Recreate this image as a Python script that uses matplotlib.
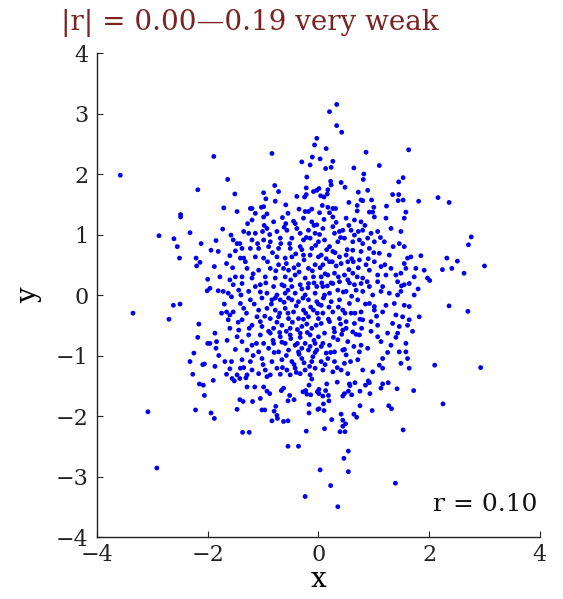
import matplotlib
matplotlib.use("Agg")
import matplotlib.pyplot as plt

# ---- data ----
pts_outer = [
    (-3.58,1.98),(-2.18,1.74),(-2.49,1.33),
    (-0.03,2.59),(-0.07,2.48),(-1.89,2.29),(-0.84,2.34),(-0.30,2.20),(-0.15,2.15),(-0.11,2.28),
    (-1.64,1.91),(-0.21,1.95),(-1.51,1.67),(-0.79,1.81),(-0.72,1.71),(-0.99,1.69),(-0.95,1.59),
    (-0.78,1.55),(-0.39,1.63),(-0.22,1.77),(-0.22,1.66),(-0.09,1.71),(-0.03,1.73),(-0.25,1.62),
    (-1.71,1.44),(-1.47,1.38),(-1.23,1.43),(-1.20,1.43),(-1.03,1.45),(-0.99,1.46),(-0.59,1.49),
    (-0.35,1.42),(-0.24,1.38),(-0.18,1.38),(-0.12,1.42),(-1.14,1.35),(-0.93,1.34),(-0.55,1.35),
    (0.33,3.15),(0.20,3.03),(0.33,2.80),(0.42,2.69),(0.14,2.42),(0.86,2.36),(1.63,2.40),(0.03,2.25),
    (0.26,2.21),(0.13,2.09),(0.23,2.11),(0.64,2.10),(1.10,2.14),(0.82,2.00),(0.81,1.91),(0.22,1.88),
    (0.23,1.82),(0.41,1.86),(0.48,1.78),(1.45,1.87),(1.53,1.94),(0.01,1.76),(0.17,1.74),(0.16,1.67),
    (0.04,1.64),(0.10,1.62),(0.72,1.70),(0.89,1.73),(0.77,1.57),(0.80,1.56),(0.96,1.57),(1.34,1.66),
    (1.45,1.66),(1.44,1.56),(1.53,1.57),(1.81,1.55),(0.55,1.53),(0.70,1.48),(0.70,1.39),(1.00,1.45),
    (1.23,1.47),(0.07,1.48),(0.17,1.45),(0.26,1.43),(0.31,1.43),(0.92,1.37),(0.98,1.37),(1.58,1.37),
    (0.02,1.36),(0.20,1.36),(2.16,1.61),(2.36,1.53),
    (-2.49,1.29),(-2.88,0.98),(-2.61,0.93),(-2.32,1.03),(-2.55,0.80),(-2.12,0.85),(-2.51,0.61),
    (-2.21,0.61),(-2.14,0.54),(-2.20,0.48),(-2.00,0.26),(-2.01,0.07),(-2.62,-0.17),(-2.50,-0.15),
    (-3.35,-0.30),(-2.70,-0.40),(-2.16,-0.48),(-2.18,-0.70),(-2.00,-0.80),(-2.25,-0.96),(-2.32,-1.10),
    (-2.09,-1.15),(-2.06,-1.14),(-2.27,-1.31),
    (-2.15,-1.47),(-2.08,-1.49),(-2.06,-1.66),(-3.08,-1.93),(-2.22,-1.90),(-2.92,-2.86),
    (-1.90,-1.41),(-1.94,-1.95),(-1.88,-2.04),(-1.29,-1.52),(-1.15,-1.52),(-0.99,-1.52),(-0.93,-1.59),
    (-0.88,-1.63),(-1.42,-1.73),(-1.36,-1.76),(-1.19,-1.76),(-1.05,-1.71),(-1.47,-1.89),(-1.02,-1.90),
    (-0.97,-1.90),(-0.77,-1.84),(-0.80,-1.92),(-0.75,-1.99),(-0.74,-2.04),(-0.84,-2.08),(-0.63,-2.09),
    (-0.55,-2.08),(-0.67,-1.58),(-0.63,-1.54),(-0.52,-1.66),(-0.55,-1.75),(-0.44,-1.73),(-1.37,-2.27),
    (-1.25,-2.27),(-0.55,-2.50),(-0.36,-2.50),(-0.22,-2.25),(-0.17,-1.95),(-0.17,-1.81),(-0.24,-3.33),
    (-0.28,-1.60),(-0.23,-1.58),(-0.17,-1.49),(-0.14,-1.65),(-0.21,-1.64),(-0.12,-1.39),(-0.02,-1.60),
    (-0.01,-1.89),(-1.56,-1.38),(-1.52,-1.42),(-1.42,-1.38),(-1.31,-1.37),
    (0.15,-1.47),(0.34,-1.44),(0.56,-1.47),(0.57,-1.50),(0.66,-1.45),(0.90,-1.42),(0.92,-1.45),
    (0.85,-1.49),(1.16,-1.47),(1.26,-1.45),(1.13,-1.54),(1.42,-1.55),(1.72,-1.58),(0.01,-1.56),
    (0.13,-1.58),(0.01,-1.63),(0.08,-1.67),(0.18,-1.66),(0.19,-1.75),(0.44,-1.67),(0.47,-1.63),
    (0.54,-1.59),(0.60,-1.65),(0.75,-1.59),(0.93,-1.63),(0.09,-1.80),(0.10,-1.91),(0.01,-1.88),
    (0.75,-1.83),(0.97,-1.91),(1.27,-1.83),(1.32,-1.88),(0.24,-2.06),(0.41,-1.97),(0.44,-2.07),
    (0.49,-2.13),(0.64,-1.97),(0.69,-2.02),(0.44,-2.17),(0.39,-2.26),(0.48,-2.26),(0.11,-2.21),
    (1.53,-2.23),(0.54,-2.58),(0.46,-2.70),(0.54,-2.92),(0.03,-2.89),(0.22,-3.15),(1.39,-3.11),
    (0.35,-3.50),(2.25,-1.80),
    (2.76,0.96),(2.71,0.83),(2.32,0.61),(2.51,0.56),(2.24,0.42),(2.41,0.44),(2.63,0.36),(3.00,0.48),
    (2.01,0.24),(2.36,-0.18),(2.70,-0.27),(2.10,-1.16),(2.93,-1.20),
]

pts_core_left = [
    (-1.20,1.24),(-0.99,1.29),(-0.81,1.21),(-0.65,1.28),(-0.59,1.18),(-0.45,1.22),(-0.27,1.27),(-0.12,1.21),(-0.03,1.16),
    (-1.73,1.09),(-1.58,0.99),(-1.35,1.05),(-1.26,1.02),(-1.14,1.02),(-1.01,1.05),(-0.93,1.10),(-0.75,1.05),(-0.57,1.07),
    (-0.39,1.10),(-0.33,1.02),(-0.18,1.07),(-0.06,1.02),
    (-1.54,0.91),(-1.47,0.85),(-1.20,0.91),(-0.99,0.91),(-0.87,0.88),(-0.69,0.94),(-0.48,0.94),(-0.27,0.91),(-0.15,0.94),(0.00,0.88),
    (-1.94,0.74),(-1.81,0.72),(-1.50,0.73),(-1.38,0.77),(-1.23,0.77),(-1.08,0.77),(-0.90,0.80),(-0.72,0.77),(-0.51,0.77),(-0.33,0.80),(-0.12,0.77),
    (-1.66,0.52),(-1.41,0.61),(-1.35,0.61),(-1.14,0.63),(-0.99,0.61),(-0.75,0.63),(-0.60,0.61),(-0.48,0.63),(-0.27,0.66),(-0.15,0.66),(0.00,0.63),
    (-1.88,0.47),(-1.29,0.44),(-1.08,0.41),(-0.87,0.44),(-0.72,0.50),(-0.63,0.44),(-0.54,0.41),(-0.36,0.50),(-0.18,0.44),(-0.06,0.50),
    (-1.50,0.30),(-1.38,0.30),(-1.20,0.28),(-0.96,0.30),(-0.78,0.28),(-0.60,0.30),(-0.42,0.33),(-0.24,0.28),(-0.09,0.30),
    (-1.96,0.11),(-1.60,0.25),(-1.54,0.17),(-1.38,0.19),(-1.14,0.14),(-1.05,0.17),(-0.81,0.14),(-0.66,0.17),(-0.48,0.14),(-0.33,0.17),(-0.18,0.19),(-0.03,0.14),
    (-1.81,0.07),(-1.72,0.06),(-1.63,0.03),(-1.44,0.08),(-1.26,0.06),(-0.93,0.03),(-0.75,0.00),(-0.60,0.03),(-0.42,0.03),(-0.24,0.00),(-0.06,0.03),
    (-1.57,-0.03),(-1.41,-0.14),(-1.23,-0.08),(-1.02,-0.05),(-0.84,-0.08),(-0.69,-0.08),(-0.54,-0.05),(-0.36,-0.11),(-0.18,-0.08),(-0.03,-0.11),
    (-1.75,-0.30),(-1.66,-0.28),(-1.60,-0.33),(-1.54,-0.28),(-1.35,-0.22),(-1.08,-0.25),(-0.93,-0.22),(-0.78,-0.25),(-0.60,-0.22),(-0.45,-0.28),(-0.27,-0.25),(-0.09,-0.25),
    (-1.63,-0.41),(-1.38,-0.41),(-1.11,-0.36),(-1.05,-0.44),(-0.87,-0.39),(-0.72,-0.36),(-0.54,-0.39),(-0.36,-0.39),(-0.18,-0.36),(0.00,-0.39),
    (-1.60,-0.55),(-1.44,-0.58),(-1.20,-0.50),(-1.02,-0.52),(-0.81,-0.55),(-0.66,-0.50),(-0.51,-0.55),(-0.30,-0.52),(-0.12,-0.55),
    (-1.87,-0.63),(-1.47,-0.69),(-1.26,-0.66),(-1.05,-0.66),(-0.87,-0.63),(-0.69,-0.69),(-0.51,-0.66),(-0.33,-0.63),(-0.15,-0.66),(0.00,-0.69),
    (-1.96,-0.80),(-1.84,-0.77),(-1.38,-0.77),(-1.20,-0.83),(-0.99,-0.80),(-0.81,-0.80),(-0.60,-0.80),(-0.42,-0.83),(-0.24,-0.80),(-0.06,-0.80),
    (-1.85,-0.88),(-1.29,-0.91),(-1.08,-0.94),(-0.90,-0.88),(-0.72,-0.94),(-0.54,-0.91),(-0.36,-0.94),(-0.18,-0.91),(-0.03,-0.91),
    (-1.69,-1.10),(-1.57,-1.10),(-1.38,-1.07),(-1.23,-1.10),(-1.02,-1.05),(-0.84,-1.10),(-0.66,-1.07),(-0.48,-1.10),(-0.30,-1.05),(-0.12,-1.10),
    (-1.87,-1.18),(-1.41,-1.21),(-1.20,-1.24),(-0.96,-1.24),(-0.75,-1.21),(-0.57,-1.24),(-0.42,-1.21),(-0.24,-1.24),(-0.06,-1.21),
    (-1.66,-1.31),(-1.47,-1.32),(-1.29,-1.32),(-1.08,-1.30),(-0.87,-1.32),(-0.69,-1.31),(-0.51,-1.32),(-0.33,-1.30),(-0.15,-1.32),
]

pts_core_right = [
    (0.26,1.29),(0.50,1.27),(0.65,1.24),(0.77,1.21),(1.01,1.29),(1.22,1.27),(1.55,1.27),
    (0.08,1.10),(0.26,1.13),(0.29,1.02),(0.44,1.07),(0.59,1.07),(0.65,0.99),(0.80,1.07),(0.95,1.02),(1.07,1.05),(1.31,1.10),(1.49,1.05),
    (0.11,0.91),(0.20,0.80),(0.35,0.88),(0.47,0.94),(0.62,0.88),(0.74,0.91),(0.89,0.94),(1.01,0.88),(1.19,0.88),(1.46,0.85),(1.55,0.80),
    (0.05,0.66),(0.26,0.72),(0.38,0.63),(0.50,0.66),(0.62,0.74),(0.77,0.72),(0.92,0.77),(1.10,0.69),(1.28,0.66),(1.61,0.61),(1.67,0.63),
    (0.08,0.50),(0.20,0.55),(0.41,0.52),(0.53,0.55),(0.74,0.58),(0.86,0.50),(1.01,0.55),(1.13,0.47),(1.31,0.44),(1.55,0.52),(1.58,0.44),(1.76,0.44),(1.91,0.41),
    (0.05,0.30),(0.17,0.33),(0.29,0.36),(0.47,0.33),(0.62,0.36),(0.80,0.28),(0.92,0.41),(1.07,0.33),(1.22,0.33),(1.40,0.33),(1.49,0.36),(1.73,0.30),(1.97,0.28),
    (0.08,0.14),(0.26,0.19),(0.38,0.22),(0.53,0.25),(0.65,0.17),(0.77,0.19),(0.92,0.14),(1.07,0.22),(1.16,0.14),(1.43,0.22),(1.55,0.17),(1.64,0.19),
    (0.11,0.00),(0.20,0.03),(0.35,0.08),(0.50,0.06),(0.68,0.08),(0.80,0.06),(0.98,0.00),(1.13,0.06),(1.28,0.03),(1.43,0.00),(1.49,0.06),(1.73,0.00),
    (0.05,-0.17),(0.23,-0.11),(0.38,-0.08),(0.56,-0.14),(0.71,-0.08),(0.92,-0.14),(1.01,-0.19),(1.22,-0.17),(1.37,-0.14),(1.55,-0.17),(1.64,-0.19),
    (0.08,-0.30),(0.26,-0.28),(0.44,-0.25),(0.59,-0.30),(0.77,-0.28),(1.01,-0.25),(1.16,-0.28),(1.40,-0.33),(1.52,-0.36),(1.64,-0.41),(1.82,-0.36),
    (0.05,-0.47),(0.20,-0.44),(0.38,-0.39),(0.50,-0.44),(0.65,-0.47),(0.80,-0.41),(0.95,-0.44),(1.07,-0.50),(1.34,-0.47),(1.46,-0.52),(1.61,-0.50),
    (0.11,-0.63),(0.29,-0.61),(0.44,-0.58),(0.62,-0.61),(0.74,-0.66),(1.07,-0.69),(1.25,-0.63),(1.43,-0.63),
    (0.08,-0.80),(0.20,-0.83),(0.35,-0.74),(0.53,-0.77),(0.77,-0.83),(0.89,-0.88),(1.13,-0.77),(1.31,-0.83),(1.58,-0.80),
    (0.14,-0.96),(0.29,-0.94),(0.44,-0.91),(0.50,-0.99),(0.74,-0.94),(1.16,-1.05),(1.46,-0.94),(1.58,-0.94),
    (0.05,-1.10),(0.17,-1.05),(0.29,-1.10),(0.47,-1.13),(0.71,-1.07),(1.10,-1.16),(1.49,-1.13),(1.61,-1.05),
    (0.08,-1.24),(0.26,-1.27),(0.41,-1.24),(0.53,-1.30),(0.80,-1.24),(0.98,-1.27),(1.16,-1.21),(1.64,-1.21),
]

pts_core_extra = [
    (-0.95,0.20),(-0.85,-0.15),(-0.70,-0.30),(-0.62,-0.12),(-0.55,0.08),(-0.47,-0.45),(-0.40,-0.18),(-0.33,-0.70),
    (-0.28,-0.05),(-0.21,-0.48),(-0.14,-0.20),(-0.08,-0.75),(-0.02,-0.30),
    (-0.97,-0.35),(-0.90,-0.60),(-0.80,-0.95),(-0.75,-0.45),(-0.66,-0.78),(-0.58,-1.00),(-0.50,-0.72),(-0.44,-1.15),
    (-0.38,-0.57),(-0.30,-0.88),(-0.26,-1.12),(-0.20,-0.62),(-0.10,-1.02),(-0.04,-0.50),
    (-0.92,0.55),(-0.83,0.70),(-0.77,0.40),(-0.68,0.85),(-0.58,0.52),(-0.50,0.25),(-0.41,0.68),(-0.35,0.38),
    (-0.26,0.58),(-0.19,0.12),(-0.11,0.40),(-0.05,0.82),
    (-1.30,-0.30),(-1.25,-0.55),(-1.16,-0.15),(-1.12,-0.80),(-1.05,0.05),(-1.00,-1.15),(-1.18,0.35),(-1.32,0.55),
    (-1.45,-0.45),(-1.50,-0.90),(-1.40,0.00),(-1.55,0.45),(-1.70,-0.15),(-1.78,0.30),(-1.65,-0.75),(-1.80,-1.00),
    (0.03,0.45),(0.09,-0.05),(0.14,0.60),(0.18,-0.40),(0.23,0.20),(0.27,-0.70),(0.32,0.48),(0.36,-0.20),(0.40,0.95),
    (0.45,0.05),(0.50,-0.55),(0.55,0.42),(0.60,-0.02),(0.64,-0.85),(0.70,0.30),(0.75,-0.40),(0.80,0.85),
    (0.05,-0.85),(0.12,-1.15),(0.16,0.15),(0.22,-0.95),(0.30,0.70),(0.34,-1.20),(0.40,-0.48),(0.47,-0.90),(0.52,0.75),
    (0.58,-1.10),(0.63,0.55),(0.68,-0.65),(0.72,1.05),(0.85,-0.15),(0.88,0.22),(0.95,-0.60),
    (0.02,1.00),(0.10,1.25),(0.15,0.75),(0.32,1.20),(0.38,1.05),(0.55,1.15),(0.60,0.60),(0.84,1.15),(0.90,0.60),
    (1.00,0.70),(1.05,-0.35),(1.12,0.95),(1.20,0.50),(1.25,-0.95),(1.35,0.80),(1.40,-0.70),(1.50,0.15),(1.70,-0.60),
    (1.80,0.10),(1.85,0.65),
    (-0.98,1.15),(-0.88,1.00),(-0.62,1.12),(-0.52,0.85),(-0.42,1.18),(-0.30,0.75),(-0.22,0.95),(-0.08,1.15),
    (-1.42,0.85),(-1.28,1.18),(-1.10,0.85),(-1.60,0.65),(-1.85,0.90),
    (-0.93,-1.35),(-0.82,-0.75),(-0.65,-1.20),(-0.58,-0.60),(-0.40,-1.28),(-0.35,-0.98),(-0.27,-0.40),(-0.16,-1.18),
    (-0.06,-0.95),(-1.18,-1.00),(-1.35,-1.20),(-1.60,-1.22),
    (-0.48,-0.08),(-0.55,-0.30),(-0.62,0.15),(-0.70,-0.62),(-0.78,-0.05),(-0.44,0.45),(-0.38,-0.80),(-0.30,0.10),
    (-0.23,-0.30),(-0.15,-0.85),(-0.08,0.20),(0.00,-0.15),
    (0.06,0.20),(0.12,0.35),(0.19,-0.20),(0.25,0.55),(0.28,-0.55),(0.36,0.30),(0.42,-0.65),(0.48,-0.30),
    (0.56,0.20),(0.66,-0.30),(0.72,0.45),(0.78,-0.55),
]

x_ticks = [-4, -2, 0, 2, 4]
y_ticks = [-4, -3, -2, -1, 0, 1, 2, 3, 4]
title_text = "|r| = 0.00\u20140.19 very weak"
r_text = "r = 0.10"

all_pts = pts_outer + pts_core_left + pts_core_right + pts_core_extra
xs = [p[0] for p in all_pts]
ys = [p[1] for p in all_pts]

plt.rcParams['font.family'] = ['DejaVu Serif']

fig = plt.figure(figsize=(5.63, 5.99), dpi=100)
ax = fig.add_axes([0.1723, 0.1035, 0.7866, 0.808])
ax.scatter(xs, ys, s=12, color='#0000ee', edgecolors='none')
ax.set_xlim(-4, 4)
ax.set_ylim(-4, 4)
ax.set_xticks(x_ticks)
ax.set_yticks(y_ticks)
ax.set_xticklabels([str(t).replace('-', '\u2212') for t in x_ticks])
ax.set_yticklabels([str(t).replace('-', '\u2212') for t in y_ticks])
ax.tick_params(direction='in', length=4, width=0.8, labelsize=16, colors='#222222')
ax.tick_params(axis='x', pad=5)
ax.tick_params(axis='y', pad=6)
for s in ['top', 'right']:
    ax.spines[s].set_visible(False)
for s in ['left', 'bottom']:
    ax.spines[s].set_color('#222222')
    ax.spines[s].set_linewidth(1.0)
ax.set_xlabel('x', fontsize=20, labelpad=0)
ax.set_ylabel('y', fontsize=20, labelpad=10)
fig.text(0.443, 0.962, title_text, ha='center', va='center', fontsize=20, color='#7a2323')
ax.text(0.995, 0.068, r_text, transform=ax.transAxes, ha='right', va='center', fontsize=18, color='#111111')

fig.savefig('out.png', dpi=100)
